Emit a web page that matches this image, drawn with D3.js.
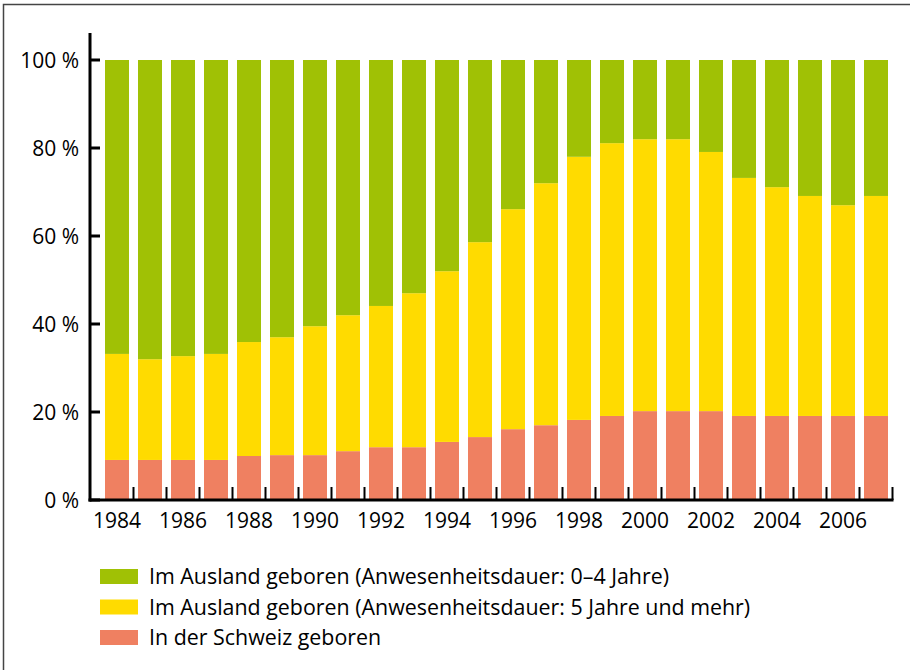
<!DOCTYPE html>
<html>
<head>
<meta charset="utf-8">
<script src="https://cdn.jsdelivr.net/npm/d3@7"></script>
<style>
  body { margin: 0; background: #fff; }
  text { font-family: "Open Sans", "Noto Sans", sans-serif; fill: #000; }
</style>
</head>
<body>
<svg id="chart"></svg>
<script>
const years = d3.range(1984, 2008);
// Anteile in %
const schweiz = [9.1, 9.1, 9.1, 9.1, 10.0, 10.2, 10.2, 11.1, 12.0, 12.0, 13.2, 14.3, 16.1, 17.0, 18.2, 19.1, 20.2, 20.2, 20.2, 19.1, 19.1, 19.1, 19.1, 19.1];
const ausland5 = [24.1, 22.9, 23.6, 24.1, 25.9, 26.8, 29.3, 30.9, 32.1, 35.0, 38.8, 44.3, 50.0, 55.0, 59.8, 62.0, 61.8, 61.8, 58.9, 54.1, 52.0, 50.0, 47.9, 50.0];
const ausland04 = [66.8, 68.0, 67.3, 66.8, 64.1, 63.0, 60.5, 58.0, 55.9, 53.0, 48.0, 41.4, 33.9, 28.0, 22.0, 18.9, 18.0, 18.0, 20.9, 26.8, 28.9, 30.9, 33.0, 30.9];
const yTicks = [0, 20, 40, 60, 80, 100];
const keys = ["schweiz", "ausland5", "ausland04"];
const labels = {
    ausland04: "Im Ausland geboren (Anwesenheitsdauer: 0–4 Jahre)",
    ausland5: "Im Ausland geboren (Anwesenheitsdauer: 5 Jahre und mehr)",
    schweiz: "In der Schweiz geboren"
};
const colors = { schweiz: "#ef8061", ausland5: "#ffdb00", ausland04: "#a0c105" };

const width = 910, height = 670;
const svg = d3.select("#chart").attr("width", width).attr("height", height);

// Rahmen (nur oben und links sichtbar)
svg.append("rect")
    .attr("x", 3.5).attr("y", 4.5)
    .attr("width", 1000).attr("height", 1000)
    .attr("fill", "none").attr("stroke", "#444").attr("stroke-width", 1.5);

const table = years.map((y, i) => ({ year: y, schweiz: schweiz[i], ausland5: ausland5[i], ausland04: ausland04[i] }));
const series = d3.stack().keys(keys)(table);

const x = d3.scaleBand().domain(years).range([100.5, 892.5])
    .paddingInner(9 / 33).paddingOuter(4.5 / 33);
const y = d3.scaleLinear().domain([0, 100]).range([500, 60]);

svg.append("g")
    .selectAll("g")
    .data(series)
    .join("g")
    .attr("fill", d => colors[d.key])
    .selectAll("rect")
    .data(d => d)
    .join("rect")
    .attr("x", d => x(d.data.year))
    .attr("width", x.bandwidth())
    .attr("y", d => y(d[1]))
    .attr("height", d => y(d[0]) - y(d[1]));

// y-Achse
const yAxis = svg.append("g");
yAxis.append("line")
    .attr("x1", 90).attr("x2", 90).attr("y1", 33).attr("y2", 501.5)
    .attr("stroke", "#000").attr("stroke-width", 3);
yAxis.selectAll(".ytick")
    .data(yTicks)
    .join("line")
    .attr("x1", 90).attr("x2", 100)
    .attr("y1", d => y(d)).attr("y2", d => y(d))
    .attr("stroke", "#000").attr("stroke-width", 3);
yAxis.selectAll("text")
    .data(yTicks)
    .join("text")
    .attr("x", 79).attr("y", d => y(d))
    .attr("dy", "0.36em")
    .attr("text-anchor", "end")
    .style("font-size", "21px")
    .text(d => d + " %");

// x-Achse
const xAxis = svg.append("g");
xAxis.append("line")
    .attr("x1", 88.5).attr("x2", 893.5).attr("y1", 500).attr("y2", 500)
    .attr("stroke", "#000").attr("stroke-width", 3);
xAxis.selectAll(".xtick")
    .data(years)
    .join("line")
    .attr("x1", d => x(d) + x.step() - x.step() * x.paddingInner() / 2)
    .attr("x2", d => x(d) + x.step() - x.step() * x.paddingInner() / 2)
    .attr("y1", 500).attr("y2", 487)
    .attr("stroke", "#000").attr("stroke-width", 2);
xAxis.selectAll("text")
    .data(years.filter(d => d % 2 === 0))
    .join("text")
    .attr("x", d => x(d) + x.bandwidth() / 2)
    .attr("y", 528)
    .attr("text-anchor", "middle")
    .style("font-size", "21px")
    .text(d => d);

// Legende
const legend = svg.append("g").attr("transform", "translate(100, 569)");
const legendKeys = ["ausland04", "ausland5", "schweiz"];
const row = legend.selectAll("g")
    .data(legendKeys)
    .join("g")
    .attr("transform", (d, i) => `translate(0, ${i * 30.5})`);
row.append("rect")
    .attr("width", 38).attr("height", 15)
    .attr("fill", d => colors[d]);
row.append("text")
    .attr("x", 49).attr("y", 15)
    .style("font-size", "21.4px")
    .text(d => labels[d]);
</script>
</body>
</html>
